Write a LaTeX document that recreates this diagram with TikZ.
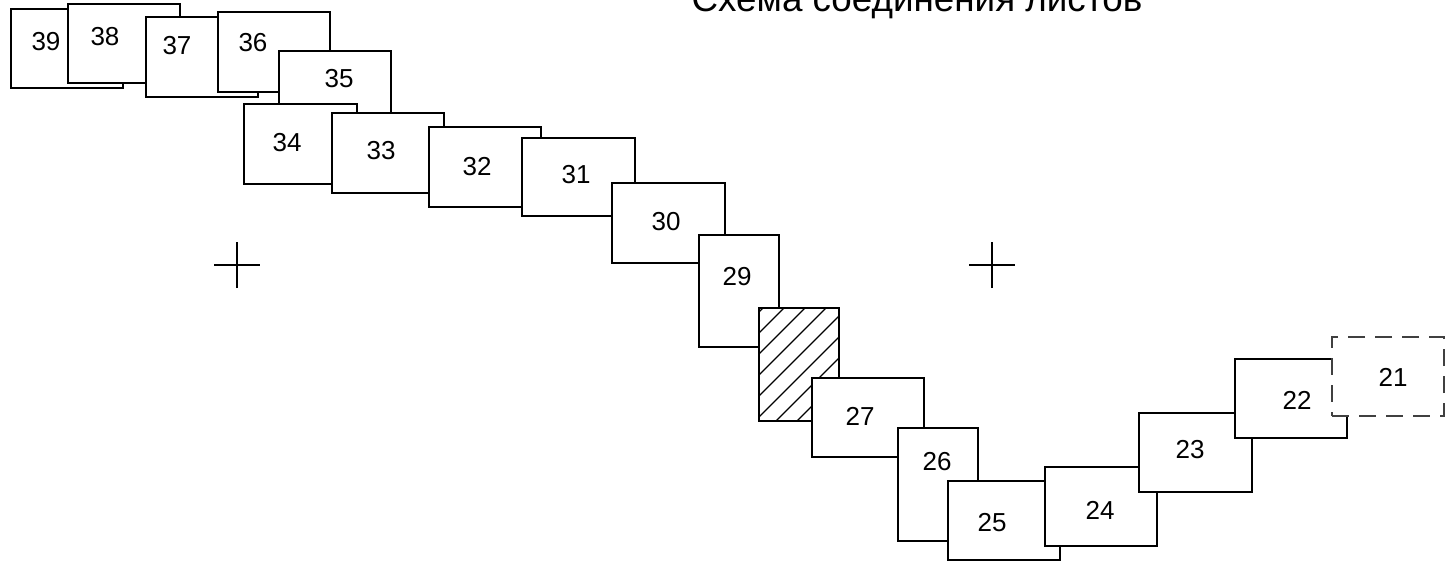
\documentclass[tikz,border=0pt]{standalone}
\usepackage{fontspec}
\setmainfont{Liberation Sans}
\tikzset{
  sheetframe/.style={draw=black, fill=white, line width=1.5pt, inner sep=0pt, outer sep=0pt},
  sheetnum/.style={inner sep=0pt, font=\fontsize{26}{29}\selectfont},
  dashedframe/.style={draw=black!75, dash pattern=on 17pt off 10pt},
  hatchline/.style={line width=1.3pt},
  crossline/.style={line width=1.3pt},
  titletext/.style={inner sep=0pt, anchor=base, font=\fontsize{36.8}{40}\selectfont}
}
\newcommand\sheetbox[8]{%
  \node[sheetframe,#8, minimum width={(#4-#2)*1pt}, minimum height={(#5-#3)*1pt}]
    (s#1) at ({(#2+#4)/2},{(#3+#5)/2}) {};
  \node[sheetnum] (n#1) at (#6,#7) {#1};
}
\begin{document}
\begin{tikzpicture}[x=1pt,y=-1pt]
\useasboundingbox (0,0) rectangle (1447,562);
\node[titletext] (title) at (917,12) {Схема соединения листов};
% crosses
\coordinate (c1) at (237,265);
\coordinate (c2) at (992,265);
\draw[crossline] ([xshift=-23pt]c1) -- ([xshift=23pt]c1);
\draw[crossline] ([yshift=-23pt]c1) -- ([yshift=23pt]c1);
\draw[crossline] ([xshift=-23pt]c2) -- ([xshift=23pt]c2);
\draw[crossline] ([yshift=-23pt]c2) -- ([yshift=23pt]c2);
% sheets
\sheetbox{39}{11}{9}{123}{88}{46}{42}{}
\sheetbox{38}{68}{4}{180}{83}{105}{37}{}
\sheetbox{37}{146}{17}{258}{97}{177}{46}{}
\sheetbox{36}{218}{12}{330}{92}{253}{43}{}
\sheetbox{35}{279}{51}{391}{130}{339}{79}{}
\sheetbox{34}{244}{104}{357}{184}{287}{143}{}
\sheetbox{33}{332}{113}{444}{193}{381}{151}{}
\sheetbox{32}{429}{127}{541}{207}{477}{167}{}
\sheetbox{31}{522}{138}{635}{216}{576}{175}{}
\sheetbox{30}{612}{183}{725}{263}{666}{222}{}
\sheetbox{29}{699}{235}{779}{347}{737}{277}{}
% hatched sheet 28
\node[sheetframe, minimum width=80pt, minimum height=113pt] (s28) at (799,364.5) {};
\begin{scope}
  \clip (s28.south west) rectangle (s28.north east);
  \foreach \c in {1050,1071,...,1281}
    \draw[hatchline] ({\c-421},421) -- ({\c-308},308);
\end{scope}
\draw[line width=1.5pt] (s28.south west) rectangle (s28.north east);
\sheetbox{27}{812}{378}{924}{457}{860}{416}{}
\sheetbox{26}{898}{428}{978}{541}{937}{462}{}
\sheetbox{25}{948}{481}{1060}{560}{992}{523}{}
\sheetbox{24}{1045}{467}{1157}{546}{1100}{510}{}
\sheetbox{23}{1139}{413}{1252}{492}{1190}{450}{}
\sheetbox{22}{1235}{359}{1347}{438}{1297}{400}{}
\sheetbox{21}{1332}{337}{1444}{416}{1393}{377}{dashedframe}
\end{tikzpicture}
\end{document}
